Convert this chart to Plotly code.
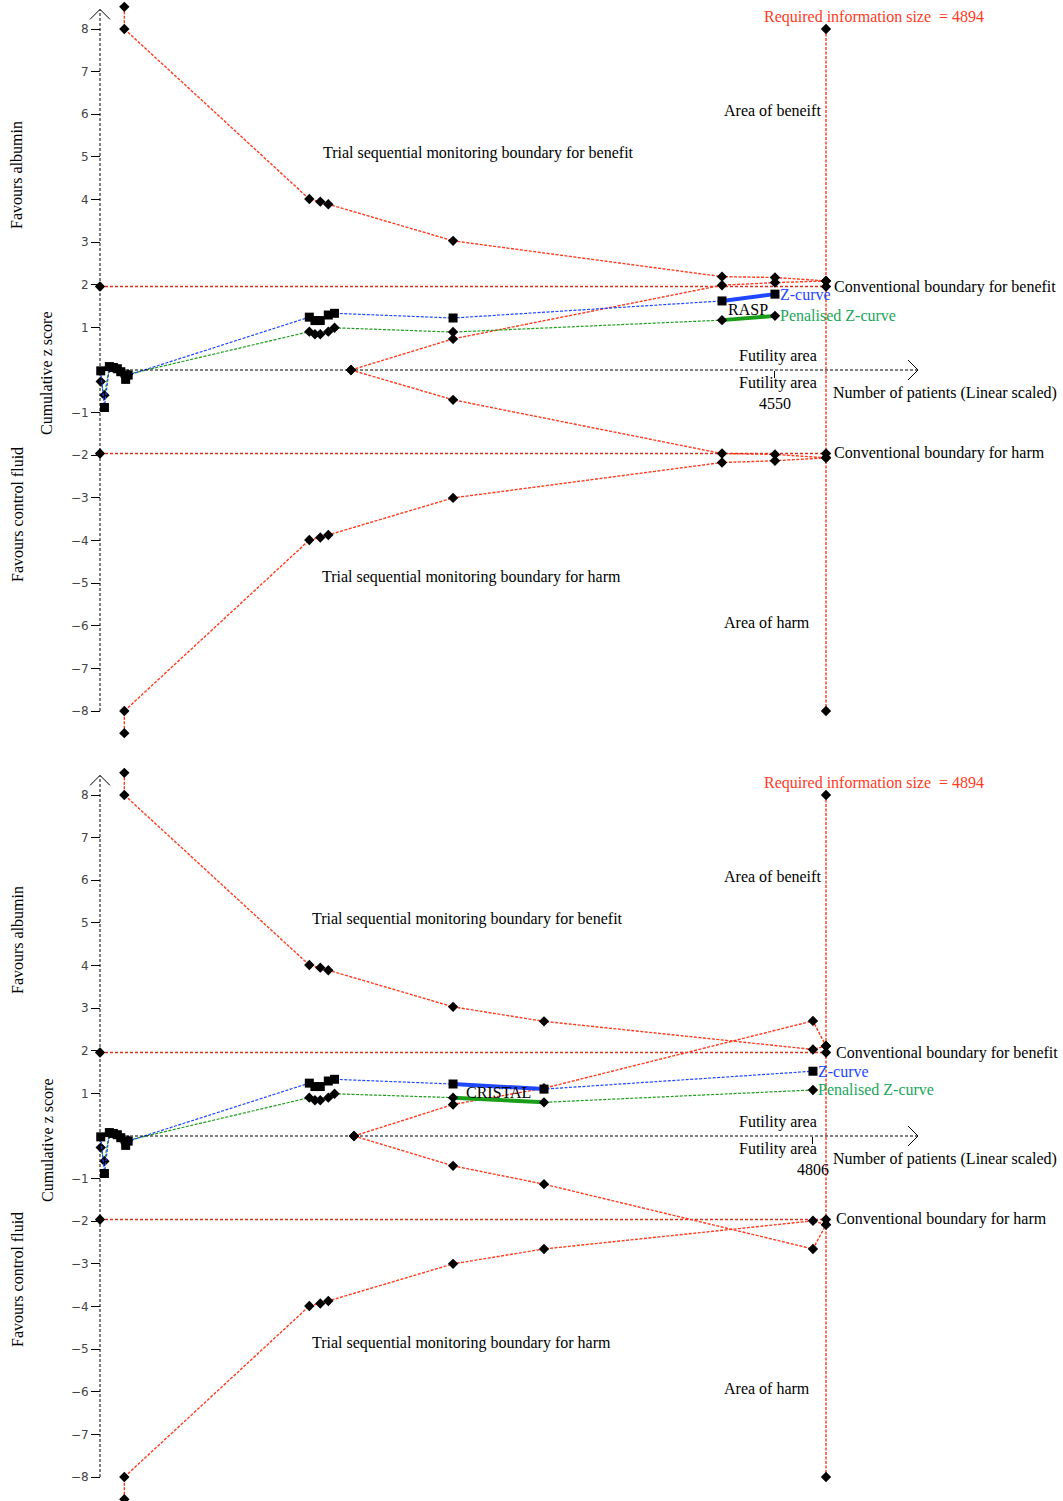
import plotly.graph_objects as go

# ---------------- data ----------------
RIS = 4894
TICK_TOP = 4550
TICK_BOTTOM = 4806

# early small trials (shared by both analyses)
early_n = [5, 30, 63, 90, 117, 140, 173, 190]
early_z = [-0.02, -0.88, 0.08, 0.06, 0.03, -0.04, -0.22, -0.12]
early_pz = [-0.27, -0.59, 0.06, 0.05, 0.02, -0.04, -0.18, -0.10]

# analysis including RASP
rasp_n = early_n + [1411, 1449, 1485, 1539, 1581, 2380, 4193, 4550]
rasp_z = early_z + [1.24, 1.16, 1.16, 1.29, 1.33, 1.22, 1.62, 1.78]
rasp_pz = early_pz + [0.90, 0.84, 0.84, 0.90, 0.99, 0.89, 1.17, 1.27]
rasp_bound_n = [164, 164, 1411, 1485, 1539, 2380, 4193, 4550, RIS]
rasp_bound_up = [8.52, 8.0, 4.01, 3.95, 3.89, 3.03, 2.19, 2.17, 2.09]
rasp_bound_lo = [-8.52, -8.0, -3.99, -3.93, -3.87, -3.0, -2.17, -2.13, -2.06]
rasp_fut_n = [1692, 2380, 4193, 4550, RIS]
rasp_fut_up = [0.0, 0.73, 1.99, 2.05, 2.09]
rasp_fut_lo = [0.0, -0.70, -1.96, -1.98, -2.06]

# analysis including CRISTAL
cris_n = early_n + [1411, 1449, 1485, 1539, 1581, 2380, 2993, 4806]
cris_z = early_z + [1.24, 1.16, 1.16, 1.29, 1.33, 1.22, 1.10, 1.52]
cris_pz = early_pz + [0.90, 0.84, 0.84, 0.90, 0.99, 0.90, 0.79, 1.08]
cris_bound_n = [164, 164, 1411, 1485, 1539, 2380, 2993, 4806, RIS]
cris_bound_up = [8.52, 8.0, 4.01, 3.95, 3.89, 3.03, 2.69, 2.03, 2.11]
cris_bound_lo = [-8.52, -8.0, -3.99, -3.93, -3.87, -3.0, -2.65, -1.99, -2.08]
cris_fut_n = [1712, 2380, 2993, 4806, RIS]
cris_fut_up = [0.0, 0.74, 1.12, 2.70, 2.11]
cris_fut_lo = [0.0, -0.70, -1.13, -2.65, -2.08]

CONV = 1.96
RIS_Z = 8.0
y_ticks = [-8, -7, -6, -5, -4, -3, -2, -1, 1, 2, 3, 4, 5, 6, 7, 8]

# ---------------- style ----------------
W, H = 1063, 1501
X0_PX = 100.0            # pixel of n = 0
PX_PER_N = 0.148345
PX_PER_Z = 42.625
ZERO_TOP_PX = 370.0
ZERO_BOT_PX = 1136.0

RED = "#ff3a1e"
DARKRED = "#d8321e"
BLUE = "#1f47ff"
GREEN = "#1a9e1a"
GREEN_TXT = "#19a65a"
SERIF = "Liberation Serif"
FS = 16
DASH = "3px,1.5px"

x_range = [-X0_PX / PX_PER_N, (W - X0_PX) / PX_PER_N]

fig = go.Figure()


def add_panel(xa, ya, n, z, pz, b_n, b_up, b_lo, f_n, f_up, f_lo, thick):
    common = dict(xaxis=xa, yaxis=ya, showlegend=False, hoverinfo="skip")
    dia = dict(symbol="diamond", size=8, color="black")
    # RIS vertical line
    fig.add_trace(go.Scatter(x=[RIS, RIS], y=[RIS_Z, -RIS_Z], mode="lines+markers",
                             line=dict(color=RED, width=1.4, dash=DASH), marker=dia, **common))
    # conventional boundaries
    for s in (1, -1):
        fig.add_trace(go.Scatter(x=[0, RIS], y=[s * CONV, s * CONV], mode="lines+markers",
                                 line=dict(color=DARKRED, width=1.4, dash="3px,2px"), marker=dia, **common))
    # monitoring and futility boundaries
    for xs, ys in ((b_n, b_up), (b_n, b_lo), (f_n, f_up), (f_n, f_lo)):
        fig.add_trace(go.Scatter(x=xs, y=ys, mode="lines+markers",
                                 line=dict(color=RED, width=1.4, dash=DASH), marker=dia, **common))
    # penalised z-curve
    fig.add_trace(go.Scatter(x=n, y=pz, mode="lines",
                             line=dict(color=GREEN, width=1.2, dash=DASH), **common))
    i, j = thick
    fig.add_trace(go.Scatter(x=n[i:j + 1], y=pz[i:j + 1], mode="lines",
                             line=dict(color=GREEN, width=4), **common))
    fig.add_trace(go.Scatter(x=n, y=pz, mode="markers", marker=dia, **common))
    # z-curve
    fig.add_trace(go.Scatter(x=n, y=z, mode="lines",
                             line=dict(color=BLUE, width=1.2, dash=DASH), **common))
    fig.add_trace(go.Scatter(x=n[i:j + 1], y=z[i:j + 1], mode="lines",
                             line=dict(color=BLUE, width=4), **common))
    fig.add_trace(go.Scatter(x=n, y=z, mode="markers",
                             marker=dict(symbol="square", size=9, color="black"), **common))


add_panel("x", "y", rasp_n, rasp_z, rasp_pz, rasp_bound_n, rasp_bound_up, rasp_bound_lo,
          rasp_fut_n, rasp_fut_up, rasp_fut_lo, (len(rasp_n) - 2, len(rasp_n) - 1))
add_panel("x2", "y2", cris_n, cris_z, cris_pz, cris_bound_n, cris_bound_up, cris_bound_lo,
          cris_fut_n, cris_fut_up, cris_fut_lo, (len(cris_n) - 3, len(cris_n) - 2))

# ---------------- axes ----------------
top_dom = [1 - 741 / H, 1.0]
bot_dom = [0.0, 1 - 756 / H]
top_range = [(ZERO_TOP_PX - 741) / PX_PER_Z, ZERO_TOP_PX / PX_PER_Z]
bot_range = [(ZERO_BOT_PX - H) / PX_PER_Z, (ZERO_BOT_PX - 756) / PX_PER_Z]

xcommon = dict(domain=[0, 1], range=x_range, anchor="free", showgrid=False, zeroline=False,
               showline=False, ticks="outside", ticklen=7, tickcolor="black", tickwidth=1,
               showticklabels=False)
ycommon = dict(anchor="free", position=X0_PX / W, showgrid=False, zeroline=False, showline=False,
               tickvals=y_ticks, ticks="outside", ticklen=9, tickcolor="black", tickwidth=1,
               tickfont=dict(family="DejaVu Sans", size=12, color="#444"))

fig.update_layout(
    width=W, height=H, margin=dict(l=0, r=0, t=0, b=0),
    paper_bgcolor="white", plot_bgcolor="white",
    xaxis=dict(xcommon, position=1 - ZERO_TOP_PX / H, tickvals=[TICK_TOP]),
    xaxis2=dict(xcommon, position=1 - ZERO_BOT_PX / H, tickvals=[TICK_BOTTOM]),
    yaxis=dict(ycommon, domain=top_dom, range=top_range),
    yaxis2=dict(ycommon, domain=bot_dom, range=bot_range),
)

# dashed axis lines with open arrow heads
shapes = []
x_end = (918 - X0_PX) / PX_PER_N
arm_n = 10 / PX_PER_N
arm_z = 10 / PX_PER_Z
y_tip = 8.46
for xr, yr in (("x", "y"), ("x2", "y2")):
    line = dict(color="black", width=1, dash="3px,2px")
    shapes.append(dict(type="line", xref=xr, yref=yr, x0=0, y0=0, x1=x_end, y1=0, line=line))
    shapes.append(dict(type="line", xref=xr, yref=yr, x0=0, y0=-8, x1=0, y1=y_tip, line=line))
    solid = dict(color="black", width=1)
    shapes.append(dict(type="path", xref=xr, yref=yr, line=solid,
                       path=f"M {x_end - arm_n},{arm_z} L {x_end},0 L {x_end - arm_n},{-arm_z}"))
    shapes.append(dict(type="path", xref=xr, yref=yr, line=solid,
                       path=f"M {-arm_n},{y_tip - arm_z} L 0,{y_tip} L {arm_n},{y_tip - arm_z}"))
fig.update_layout(shapes=shapes)

# ---------------- text ----------------
ann = []


def txt(text, x, y, xr, yr, color="black", xanchor="left", xshift=-3, yshift=0):
    ann.append(dict(text=text, x=x, y=y, xref=xr, yref=yr, showarrow=False, xanchor=xanchor,
                    yanchor="middle", xshift=xshift, yshift=yshift,
                    font=dict(family=SERIF, size=FS, color=color)))


panels = [
    ("x", "y", rasp_n, rasp_z, rasp_pz, TICK_TOP, "RASP", -12, 1510, 1503, 6),
    ("x2", "y2", cris_n, cris_z, cris_pz, TICK_BOTTOM, "CRISTAL", -6, 1436, 1436, 8),
]
to_n = lambda px: (px - X0_PX) / PX_PER_N
for xr, yr, n, z, pz, tick, name, nys, nb, nh, cshift in panels:
    txt("Required information size  = 4894", RIS, 8.28, xr, yr, RED, "center", xshift=48)
    txt("Area of beneift", to_n(725), 6.08, xr, yr)
    txt("Trial sequential monitoring boundary for benefit", nb, 5.08, xr, yr)
    txt("Trial sequential monitoring boundary for harm", nh, -4.85, xr, yr)
    txt("Area of harm", to_n(725), -5.93, xr, yr)
    txt("Conventional boundary for benefit", RIS, CONV, xr, yr, xshift=cshift, yshift=-1)
    txt("Conventional boundary for harm", RIS, -CONV, xr, yr, xshift=cshift, yshift=1)
    txt("Futility area", to_n(740), 0.34, xr, yr)
    txt("Futility area", to_n(740), -0.31, xr, yr)
    txt(str(tick), tick, -0.78, xr, yr, xanchor="center", xshift=0)
    txt("Number of patients (Linear scaled)", to_n(834), -0.55, xr, yr)
    txt("Z-curve", n[-1], z[-1], xr, yr, BLUE, xshift=3)
    txt("Penalised Z-curve", n[-1], pz[-1], xr, yr, GREEN_TXT, xshift=3)
    i = len(n) - (2 if name == "RASP" else 3)
    txt(name, (n[i] + n[i + 1]) / 2, (z[i] + z[i + 1]) / 2, xr, yr, xanchor="center",
        xshift=0, yshift=nys)

# rotated axis titles
for (t, px_y, px_x) in (("Favours albumin", 175, 17), ("Cumulative z score", 373, 47),
                        ("Favours control fluid", 515, 17), ("Favours albumin", 940, 17),
                        ("Cumulative z score", 1140, 47), ("Favours control fluid", 1280, 17)):
    ann.append(dict(text=t, x=px_x / W, y=1 - px_y / H, xref="paper", yref="paper",
                    showarrow=False, textangle=-90, xanchor="center", yanchor="middle",
                    font=dict(family=SERIF, size=FS, color="black")))

fig.update_layout(annotations=ann)
fig.write_html("out.html")
